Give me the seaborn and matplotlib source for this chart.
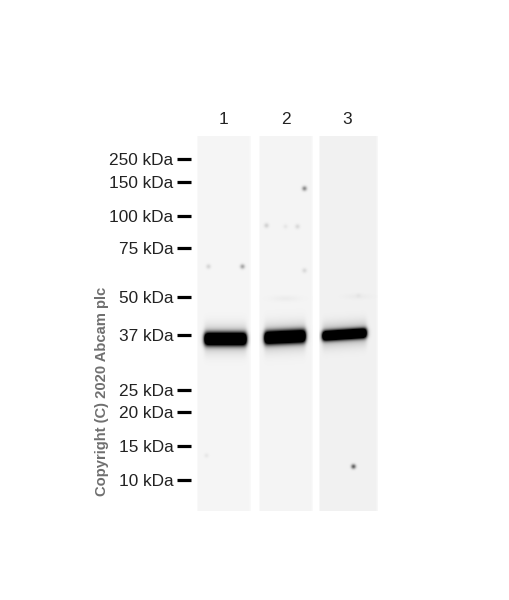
import numpy as np
import matplotlib
matplotlib.use("Agg")
import matplotlib.pyplot as plt
import seaborn as sns

sns.set_theme(style="white")
plt.rcParams['font.family'] = ['Liberation Sans', 'DejaVu Sans']

# ladder, positions are rows from the top of the lanes
ladder_labels = ["250 kDa", "150 kDa", "100 kDa", "75 kDa", "50 kDa", "37 kDa", "25 kDa", "20 kDa", "15 kDa", "10 kDa"]
ladder_rows = [23, 46, 80, 112, 161, 199, 254, 276, 310, 344]

lane_names = ["1", "2", "3"]
lane_left = [197, 259, 319]
lane_width = [54, 54, 59]
lane_rows = 375
lane_bg = [0.96, 0.955, 0.945]

# band in each lane: first col, last col, row at first col, row at last col, half height
band_start = [6, 4, 2]
band_end = [50, 47, 48]
band_row_a = [202.5, 201.5, 199.5]
band_row_b = [202.5, 199.5, 196.5]
band_half = [6.5, 6.5, 5.0]

# specks: col, row, darkness
spots_1 = [(11, 130, 0.12), (45, 130, 0.3), (9, 319, 0.05)]
spots_2 = [(45, 52, 0.4), (7, 89, 0.13), (26, 90, 0.05), (38, 90, 0.1), (45, 134, 0.1)]
spots_3 = [(34, 330, 0.55), (39, 159, 0.03)]
spots = [spots_1, spots_2, spots_3]

# faint smear above the main band (col, row, darkness)
smears_1 = []
smears_2 = [(26, 162, 0.03)]
smears_3 = [(38, 160, 0.025)]
smears = [smears_1, smears_2, smears_3]


def lane_image(i):
    w = lane_width[i]
    rows, cols = np.mgrid[0:lane_rows, 0:w]
    dark = np.full((lane_rows, w), 1 - lane_bg[i], dtype=float)

    # lanes fade out a little to the white page at the edges
    edge = np.minimum(cols + 1.5, w - cols) / 2.5
    dark *= np.clip(edge, 0.6, 1)

    for c, r, d in spots[i]:
        dark += d * np.exp(-((cols - c) ** 2 + (rows - r) ** 2) / (2 * 1.7 ** 2))
    for c, r, d in smears[i]:
        dark += d * np.exp(-((cols - c) / 14.0) ** 2 - ((rows - r) / 3.0) ** 2)

    # main band
    x0, x1 = band_start[i], band_end[i]
    centre = band_row_a[i] + (band_row_b[i] - band_row_a[i]) * (cols - x0) / (x1 - x0)
    across = 0.25 * (1 + np.tanh((cols - x0 - 1) / 2.2)) * (1 + np.tanh((x1 - 1 - cols) / 2.2))
    core = np.exp(-(np.abs(rows - centre) / band_half[i]) ** 2.4)
    haze = np.exp(-(np.abs(rows - centre) / (band_half[i] + 6)) ** 2)
    dark += across * (1.5 * core + 0.28 * haze)

    return 1 - np.clip(dark, 0, 1)


W, H = 510, 600
fig = plt.figure(figsize=(W / 100, H / 100), dpi=100)
fig.patch.set_facecolor("white")

for i, name in enumerate(lane_names):
    ax = fig.add_axes([lane_left[i] / W, 1 - (136 + lane_rows) / H, lane_width[i] / W, lane_rows / H])
    sns.heatmap(lane_image(i), cmap="gray", vmin=0, vmax=1, cbar=False,
                xticklabels=False, yticklabels=False, ax=ax)
    ax.text(lane_width[i] / 2 + (-1 if i == 2 else 0), -17, name, ha="center", va="center",
            fontsize=12.4, color="#222222", clip_on=False)
    if i == 0:
        ax.hlines(ladder_rows, -20, -6, color="black", lw=2.3, clip_on=False)
        for lab, r in zip(ladder_labels, ladder_rows):
            ax.text(-23.5, r, lab, ha="right", va="center_baseline", fontsize=12.4,
                    color="#222222", clip_on=False)

fig.text(102 / W, 1 - 391 / H, "Copyright (C) 2020 Abcam plc", rotation=90, ha="center", va="center",
         fontsize=10.6, fontweight="bold", color="#6f6f6f")

fig.savefig("out.png", dpi=100, facecolor="white")
